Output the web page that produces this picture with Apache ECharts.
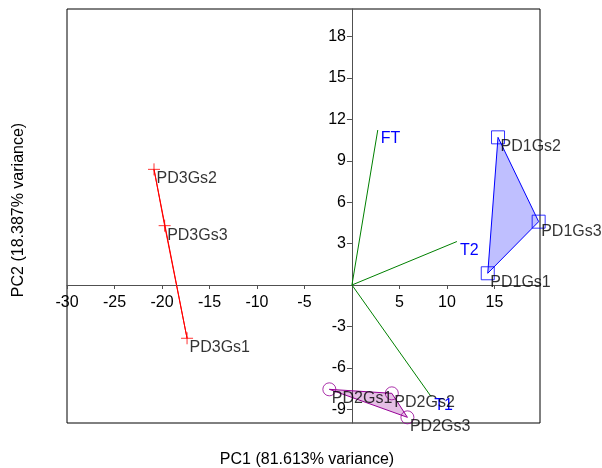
<!DOCTYPE html>
<html><head><meta charset="utf-8">
<script src="https://cdn.jsdelivr.net/npm/echarts@6/dist/echarts.min.js"></script>
<style>html,body{margin:0;padding:0;background:#fff}#c{width:602px;height:468px}</style>
</head><body><div id="c"></div>
<script>
// ---- data ----
const pd1Names = ['PD1Gs1', 'PD1Gs2', 'PD1Gs3'];
const pd1X = [14.3, 15.38, 19.66];
const pd1Y = [0.85, 10.7, 4.59];

const pd2Names = ['PD2Gs1', 'PD2Gs2', 'PD2Gs3'];
const pd2X = [-2.38, 4.2, 5.84];
const pd2Y = [-7.56, -7.85, -9.59];

const pd3Names = ['PD3Gs1', 'PD3Gs2', 'PD3Gs3'];
const pd3X = [-17.36, -20.84, -19.72];
const pd3Y = [-3.86, 8.38, 4.3];

const loadNames = ['T1', 'T2', 'FT'];
const loadX = [8.34, 11.05, 2.72];
const loadY = [-8.09, 3.15, 11.23];

const xTicks = [-30, -25, -20, -15, -10, -5, 5, 10, 15];
const yTicks = [-9, -6, -3, 3, 6, 9, 12, 15, 18];

const xTitle = 'PC1 (81.613% variance)';
const yTitle = 'PC2 (18.387% variance)';

// ---- chart ----
const FONT = '"Liberation Sans", Arial, sans-serif';
const AX = '#505050';
const X_MIN = -30, X_MAX = 19.8, Y_MIN = -10, Y_MAX = 20;
const G = { left: 67, top: 9, width: 473, height: 414 };
// shift the axes so that they cross at the origin
const xAxisOffset = -G.height * (0 - Y_MIN) / (Y_MAX - Y_MIN);
const yAxisOffset = -G.width * (0 - X_MIN) / (X_MAX - X_MIN);

function pts(xs, ys) { return xs.map((x, i) => [x, ys[i]]); }

function hullSeries(xs, ys, stroke, fill) {
  const p = pts(xs, ys);
  return {
    type: 'custom', coordinateSystem: 'cartesian2d', z: 1, silent: true,
    data: p,
    renderItem: function (params, api) {
      if (params.dataIndex !== 0) return null;
      return {
        type: 'polygon',
        shape: { points: p.map(q => api.coord(q)) },
        style: { fill: fill, stroke: stroke, lineWidth: 1 }
      };
    }
  };
}

function pointSeries(xs, ys, names, symbol, size, color) {
  return {
    type: 'scatter', z: 3, silent: true,
    data: xs.map((x, i) => ({ value: [x, ys[i]], name: names[i] })),
    symbol: symbol, symbolSize: size,
    itemStyle: { color: 'rgba(0,0,0,0)', borderColor: color, borderWidth: 1 },
    label: {
      show: true, formatter: '{b}', position: [size / 2 + 3, size / 2 + 10], align: 'left', verticalAlign: 'middle',
      color: '#000', fontSize: 16, fontFamily: FONT, textBorderWidth: 0
    },
    emphasis: { disabled: true }
  };
}

const chart = echarts.init(document.getElementById('c'), null, { renderer: 'canvas' });
chart.setOption({
  animation: false,
  backgroundColor: '#fff',
  grid: Object.assign({ show: true, borderColor: '#000', borderWidth: 1, backgroundColor: 'transparent' }, G),
  xAxis: {
    type: 'value', min: X_MIN, max: X_MAX, position: 'bottom', offset: xAxisOffset,
    axisLine: { onZero: false, lineStyle: { color: AX, width: 1 } },
    axisTick: { customValues: xTicks, length: 4, lineStyle: { color: AX } },
    axisLabel: { customValues: xTicks, color: '#000', fontSize: 16, fontFamily: FONT, margin: 10 },
    splitLine: { show: false }
  },
  yAxis: {
    type: 'value', min: Y_MIN, max: Y_MAX, position: 'left', offset: yAxisOffset,
    axisLine: { onZero: false, lineStyle: { color: AX, width: 1 } },
    axisTick: { customValues: yTicks, length: 5, lineStyle: { color: AX } },
    axisLabel: { customValues: yTicks, color: '#000', fontSize: 16, fontFamily: FONT, margin: 6 },
    splitLine: { show: false }
  },
  graphic: [
    { type: 'text', x: 307, y: 460, style: { text: xTitle, fill: '#000', fontSize: 16, fontFamily: FONT, align: 'center', verticalAlign: 'middle' } },
    { type: 'text', x: 19, y: 210, rotation: Math.PI / 2, style: { text: yTitle, fill: '#000', fontSize: 16, fontFamily: FONT, align: 'center', verticalAlign: 'middle' } }
  ],
  series: [
    hullSeries(pd1X, pd1Y, '#0000ff', 'rgba(0,0,255,0.25)'),
    hullSeries(pd2X, pd2Y, '#960096', 'rgba(150,0,150,0.25)'),
    hullSeries(pd3X, pd3Y, '#ff0000', 'rgba(255,0,0,0.25)'),
    {
      type: 'custom', coordinateSystem: 'cartesian2d', z: 2, silent: true,
      data: loadX.map((x, i) => [x, loadY[i], i]),
      renderItem: function (params, api) {
        const o = api.coord([0, 0]);
        const e = api.coord([api.value(0), api.value(1)]);
        return {
          type: 'group', children: [
            { type: 'line', shape: { x1: o[0], y1: o[1], x2: e[0], y2: e[1] }, style: { stroke: '#008000', lineWidth: 1 } },
            { type: 'text', x: e[0] + 3, y: e[1] + 9, style: { text: loadNames[api.value(2)], fill: '#0000ff', fontSize: 16, fontFamily: FONT, align: 'left', verticalAlign: 'middle' } }
          ]
        };
      }
    },
    pointSeries(pd1X, pd1Y, pd1Names, 'rect', 13, '#0000ff'),
    pointSeries(pd2X, pd2Y, pd2Names, 'circle', 13, '#960096'),
    pointSeries(pd3X, pd3Y, pd3Names, 'path://M6,0L6,12M0,6L12,6', 12, '#ff0000')
  ]
});
</script>
</body></html>
